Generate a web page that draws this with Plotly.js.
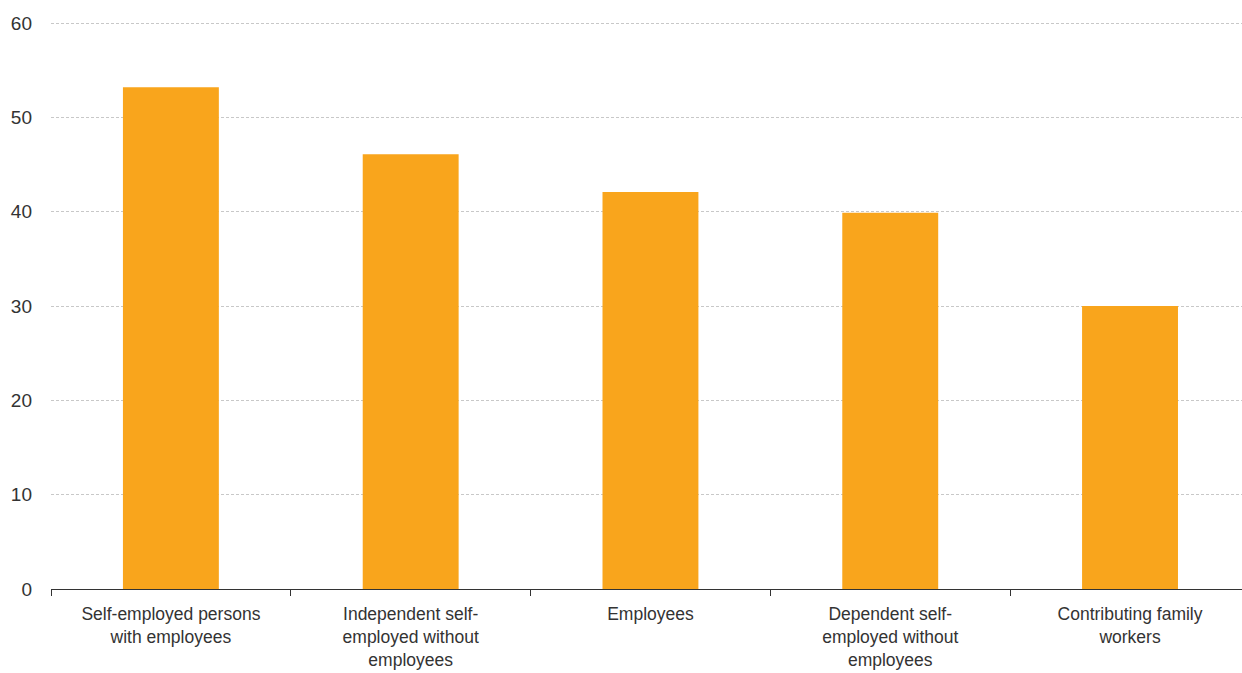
<!DOCTYPE html>
<html>
<head>
<meta charset="utf-8">
<script src="https://cdn.plot.ly/plotly-3.0.1.min.js"></script>
<style>html,body{margin:0;padding:0;background:#fff;}#chart{width:1242px;height:673px;}</style>
</head>
<body>
<div id="chart"></div>
<script>
const categories = [
  "Self-employed persons<br>with employees",
  "Independent self-<br>employed without<br>employees",
  "Employees",
  "Dependent self-<br>employed without<br>employees",
  "Contributing family<br>workers"
];
const values = [53.2, 46.1, 42.1, 39.9, 30.0];
const yTicks = [0, 10, 20, 30, 40, 50, 60];

const fontFam = "'Liberation Sans', Arial, sans-serif";

Plotly.newPlot('chart', [{
  type: 'bar',
  x: categories,
  y: values,
  width: 0.4,
  marker: {color: '#F9A51C', line: {width: 0}},
  hoverinfo: 'none'
}], {
  width: 1242,
  height: 673,
  margin: {l: 51, r: 0, t: 22, b: 84, pad: 0},
  paper_bgcolor: '#fff',
  plot_bgcolor: '#fff',
  showlegend: false,
  font: {family: fontFam, color: '#333333', size: 17},
  xaxis: {
    type: 'category',
    range: [-0.5, 4.467],
    tickson: 'boundaries',
    ticks: 'outside',
    ticklen: 6,
    tickcolor: '#333',
    tickwidth: 1,
    showline: true,
    linecolor: '#333',
    linewidth: 1,
    showgrid: false,
    tickangle: 0,
    ticklabelstandoff: 9,
    tickfont: {family: fontFam, size: 17.5, color: '#333'}
  },
  yaxis: {
    range: [0, 60.12],
    tickvals: yTicks,
    ticktext: yTicks.map(String),
    showgrid: true,
    gridcolor: '#c8c8c8',
    griddash: '3px,2px',
    gridwidth: 1,
    zeroline: false,
    showline: false,
    ticks: '',
    ticklabelstandoff: 18,
    tickfont: {family: fontFam, size: 19, color: '#333'}
  }
}, {displayModeBar: false, staticPlot: true});
</script>
</body>
</html>
